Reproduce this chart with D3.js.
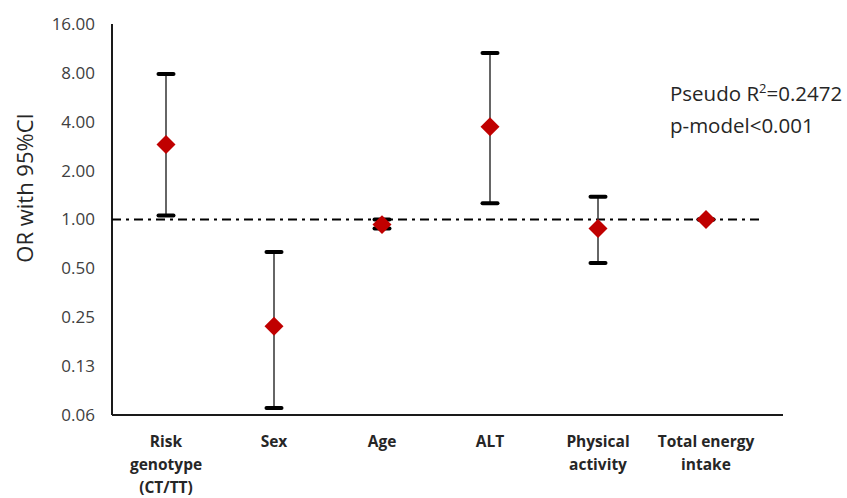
<!DOCTYPE html>
<html>
<head>
<meta charset="utf-8">
<script src="https://cdn.jsdelivr.net/npm/d3@7"></script>
<style>
  body { margin: 0; background: white; }
  text { font-family: "Open Sans", sans-serif; }
</style>
</head>
<body>
<script>
// Odds ratio plot with 95% CI (log2 y axis)
const categories = ["Risk genotype (CT/TT)", "Sex", "Age", "ALT", "Physical activity", "Total energy intake"]
const catLines = [["Risk", "genotype", "(CT/TT)"], ["Sex"], ["Age"], ["ALT"], ["Physical", "activity"], ["Total energy", "intake"]]
const orValues = [2.9, 0.22, 0.93, 3.73, 0.88, 1.0]
const ciLower = [1.06, 0.069, 0.88, 1.26, 0.54, 1.0]
const ciUpper = [7.88, 0.63, 1.0, 10.6, 1.38, 1.0]
const tickValues = [0.0625, 0.125, 0.25, 0.5, 1, 2, 4, 8, 16]
const tickLabels = ["0.06", "0.13", "0.25", "0.50", "1.00", "2.00", "4.00", "8.00", "16.00"]
const refLine = 1
const notes = ["Pseudo R", "=0.2472", "p-model<0.001"]

const w = 847, h = 498
const plotLeft = 112, plotRight = 760, plotTop = 24, plotBottom = 415

const svg = d3.select("body").append("svg")
    .attr("width", w)
    .attr("height", h)

const x = d3.scaleBand()
    .domain(categories)
    .range([plotLeft, plotRight])
    .padding(0)

const y = d3.scaleLog()
    .base(2)
    .domain([0.0625, 16])
    .range([plotBottom, plotTop])

//? y axis
const yAxis = d3.axisLeft(y)
    .tickValues(tickValues)
    .tickFormat((d, i) => tickLabels[i])
    .tickSize(0)
    .tickPadding(17)

const gy = svg.append("g")
    .attr("transform", "translate(" + plotLeft + ",0)")
    .call(yAxis)
gy.select(".domain").remove()
gy.selectAll("text")
    .style("font-family", "'Open Sans', sans-serif")
    .style("font-size", "17px")
    .attr("fill", "#404040")

svg.append("line")
    .attr("x1", plotLeft).attr("x2", plotLeft)
    .attr("y1", plotTop).attr("y2", plotBottom)
    .attr("stroke", "#1a1a1a")
    .attr("stroke-width", 2)

//? x axis
svg.append("line")
    .attr("x1", plotLeft).attr("x2", 783)
    .attr("y1", plotBottom).attr("y2", plotBottom)
    .attr("stroke", "#1a1a1a")
    .attr("stroke-width", 2)

const labels = svg.append("g")
    .selectAll("text")
    .data(categories)
    .enter()
    .append("text")
    .attr("text-anchor", "middle")
    .attr("x", (d) => x(d) + x.bandwidth() / 2)
    .attr("y", 447)
    .style("font-size", "15.5px")
    .style("font-weight", "bold")
    .attr("fill", "#262626")

labels.each(function(d, i) {
    const t = d3.select(this)
    catLines[i].forEach((line, j) => {
        t.append("tspan")
            .attr("x", x(d) + x.bandwidth() / 2)
            .attr("dy", j === 0 ? 0 : 23)
            .text(line)
    })
})

// y axis title
svg.append("text")
    .attr("transform", "translate(33," + 188 + ") rotate(-90)")
    .attr("text-anchor", "middle")
    .style("font-size", "22px")
    .attr("fill", "#262626")
    .text("OR with 95%CI")

// reference line at OR = 1
svg.append("line")
    .attr("x1", plotLeft).attr("x2", plotRight)
    .attr("y1", y(refLine)).attr("y2", y(refLine))
    .attr("stroke", "black")
    .attr("stroke-width", 2)
    .attr("stroke-dasharray", "9,5,3,5")

// error bars
const cx = (i) => x(categories[i]) + x.bandwidth() / 2
const bars = svg.append("g")
categories.forEach((c, i) => {
    bars.append("line")
        .attr("x1", cx(i)).attr("x2", cx(i))
        .attr("y1", y(ciLower[i])).attr("y2", y(ciUpper[i]))
        .attr("stroke", "#333")
        .attr("stroke-width", 1.5)
    ;[ciLower[i], ciUpper[i]].forEach((v) => {
        bars.append("line")
            .attr("x1", cx(i) - 7.5).attr("x2", cx(i) + 7.5)
            .attr("y1", y(v)).attr("y2", y(v))
            .attr("stroke", "black")
            .attr("stroke-width", 4)
            .attr("stroke-linecap", "round")
    })
})

// points
svg.selectAll("path.pt")
    .data(orValues)
    .enter()
    .append("path")
    .attr("class", "pt")
    .attr("d", d3.symbol().type(d3.symbolSquare).size(180))
    .attr("transform", (d, i) => "translate(" + cx(i) + "," + y(d) + ") rotate(45)")
    .attr("fill", "#C00000")

// annotation
const note = svg.append("text")
    .attr("x", 670)
    .attr("y", 101)
    .style("font-size", "20.5px")
    .attr("fill", "#262626")
note.append("tspan").text(notes[0])
note.append("tspan").attr("dy", -8).style("font-size", "13px").text("2")
note.append("tspan").attr("dy", 8).text(notes[1])
svg.append("text")
    .attr("x", 670)
    .attr("y", 133)
    .style("font-size", "20.5px")
    .attr("fill", "#262626")
    .text(notes[2])
</script>
</body>
</html>
